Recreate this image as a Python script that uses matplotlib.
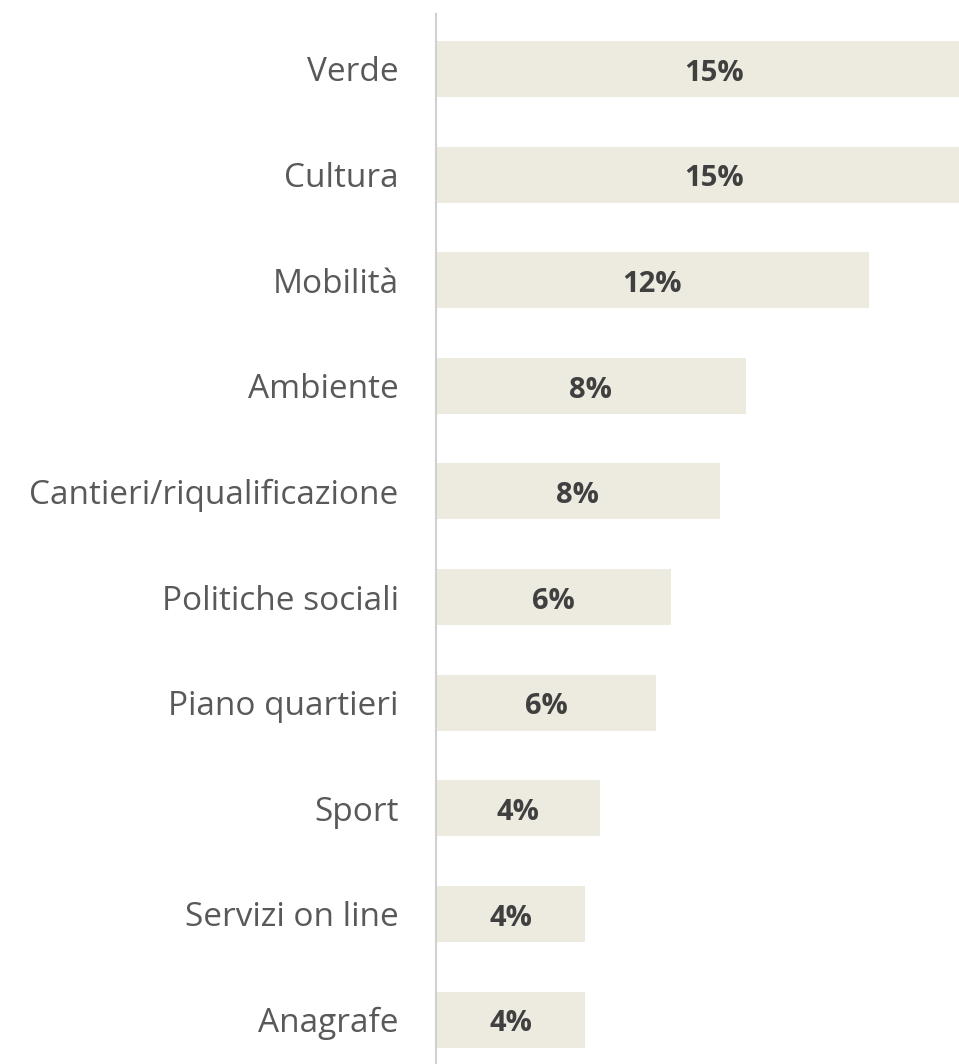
import matplotlib.pyplot as plt

# categories top to bottom
categorie = ["Verde", "Cultura", "Mobilità", "Ambiente", "Cantieri/riqualificazione",
             "Politiche sociali", "Piano quartieri", "Sport", "Servizi on line", "Anagrafe"]
valori = [14.9, 14.9, 11.6, 8.3, 7.6, 6.3, 5.9, 4.4, 4.0, 4.0]
etichette = ["15%", "15%", "12%", "8%", "8%", "6%", "6%", "4%", "4%", "4%"]

plt.rcParams['font.family'] = ['Open Sans', 'DejaVu Sans']

fig = plt.figure(figsize=(9.59, 10.64), dpi=100)
ax = fig.add_axes([436/959, 0, 1 - 436/959, 1 - 14/1064])

pos = list(range(len(categorie)))
ax.barh(pos, valori, height=0.53, color='#EDEBE0')
for p, v, t in zip(pos, valori, etichette):
    ax.text(v/2, p + 0.04, t, ha='center', va='center', fontsize=21,
            fontweight='bold', color='#404040')

ax.set_ylim(9.42, -0.52)
ax.set_xlim(0, 14.02)
ax.set_yticks(pos)
ax.set_yticklabels(categorie, fontsize=24, color='#595959')
ax.tick_params(axis='y', length=0, pad=27)
ax.set_xticks([])
for s in ['top', 'right', 'bottom']:
    ax.spines[s].set_visible(False)
ax.spines['left'].set_color('#D0D0D0')
ax.spines['left'].set_linewidth(1.5)

fig.savefig('out.png', dpi=100)
